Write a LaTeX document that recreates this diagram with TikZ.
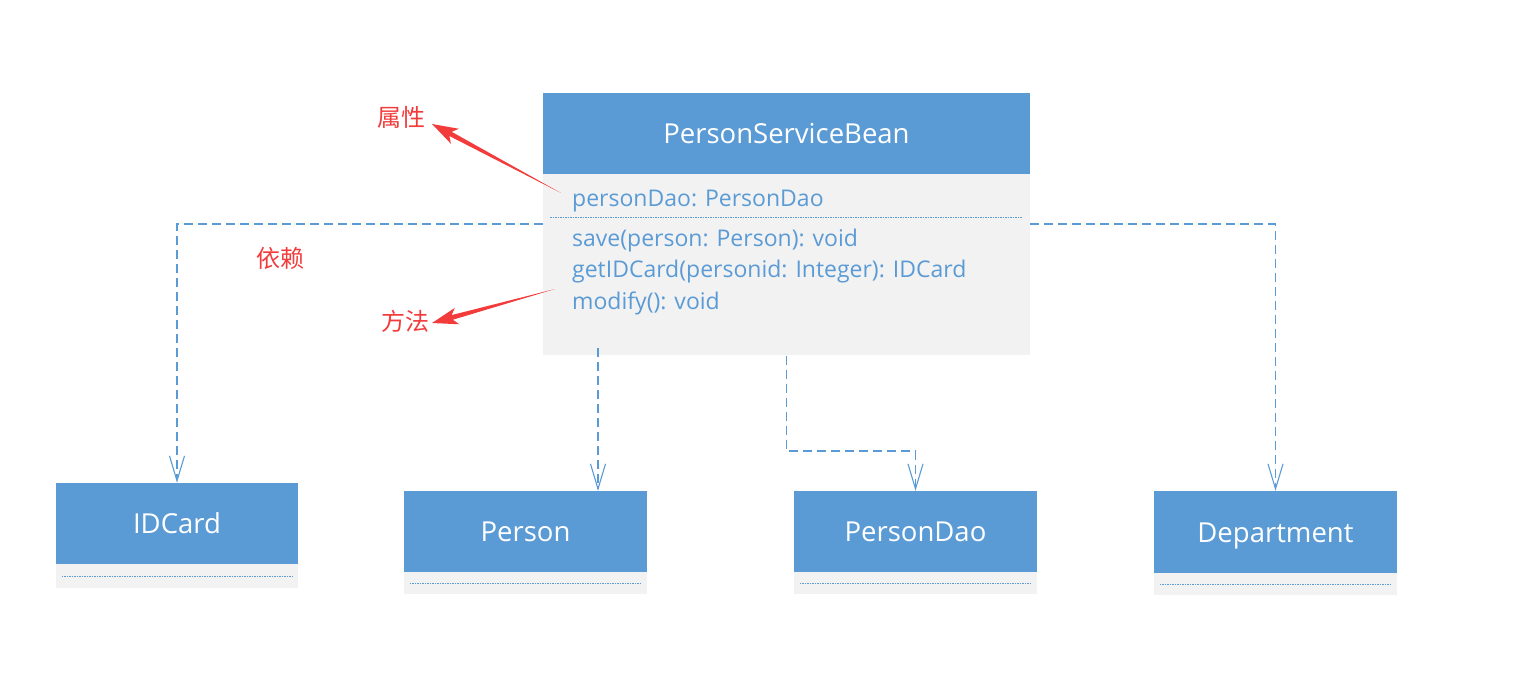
\documentclass[tikz,border=0pt]{standalone}
\usepackage{fontspec}
\setmainfont{Open Sans}
\newfontfamily\cjk{Noto Sans CJK SC}
\usetikzlibrary{arrows.meta,calc}
\definecolor{hdr}{HTML}{5B9BD5}
\definecolor{bodyg}{HTML}{F2F2F2}
\definecolor{anno}{HTML}{F23C3C}
\newcommand{\redarrow}[2]{%
  \path ($(#2)!26pt!(#1)$) coordinate (rb) ($(#2)!21pt!(#1)$) coordinate (rc);
  \fill[anno] (#1) -- ($(rc)!2.4pt!90:(#2)$) -- ($(rb)!8.5pt!90:(#2)$) -- (#2)
     -- ($(rb)!8.5pt!-90:(#2)$) -- ($(rc)!2.4pt!-90:(#2)$) -- cycle;}
\begin{document}
\begin{tikzpicture}[x=1pt,y=-1pt,
  hdrbox/.style={fill=hdr, draw=none, inner sep=0pt, text=white, text height=20pt, text depth=0pt, font=\fontsize{27.5}{32}\selectfont},
  bodybox/.style={fill=bodyg, draw=none, inner sep=0pt},
  member/.style={text=hdr, anchor=west, font=\fontsize{23}{26}\selectfont, inner sep=0pt},
  sep/.style={draw=hdr, dash pattern=on 1.5pt off 1pt, line width=0.9pt},
  dep/.style={draw=hdr, dash pattern=on 9pt off 5pt, line width=1.1pt, -{Straight Barb[length=25pt,width=15pt]}},
  annot/.style={text=anno, font=\cjk\fontsize{24}{28}\selectfont, inner sep=0pt},
]
\useasboundingbox (0,0) rectangle (1538,689);
% main class
\node (psbh) [hdrbox, minimum width=487pt, minimum height=81pt] at (786.5,133.5) {PersonServiceBean};
\node (psbb) [bodybox, minimum width=487pt, minimum height=181pt, anchor=north] at (psbh.south) {};
\node (attr1) [member] at (572,201) {personDao: PersonDao};
\draw[sep] (550,217) -- (1022,217);
\node (m1) [member] at (572,241) {save(person: Person): void};
\node (m2) [member] at (572,272) {getIDCard(personid: Integer): IDCard};
\node (m3) [member] at (572,303) {modify(): void};
% dependent classes
\node (idh) [hdrbox, minimum width=242pt, minimum height=81pt] at (177,523.5) {IDCard};
\node (idb) [bodybox, minimum width=242pt, minimum height=24pt, anchor=north] at (idh.south) {};
\draw[sep] ([xshift=6pt]idb.west) -- ([xshift=-6pt]idb.east);
\node (perh) [hdrbox, minimum width=243pt, minimum height=81pt] at (525.5,531.5) {Person};
\node (perb) [bodybox, minimum width=243pt, minimum height=22pt, anchor=north] at (perh.south) {};
\draw[sep] ([xshift=6pt]perb.west) -- ([xshift=-6pt]perb.east);
\node (pdh) [hdrbox, minimum width=243pt, minimum height=81pt] at (915.5,531.5) {PersonDao};
\node (pdb) [bodybox, minimum width=243pt, minimum height=22pt, anchor=north] at (pdh.south) {};
\draw[sep] ([xshift=6pt]pdb.west) -- ([xshift=-6pt]pdb.east);
\node (deph) [hdrbox, minimum width=243pt, minimum height=82pt] at (1275.5,532) {Department};
\node (depb) [bodybox, minimum width=243pt, minimum height=22pt, anchor=north] at (deph.south) {};
\draw[sep] ([xshift=6pt]depb.west) -- ([xshift=-6pt]depb.east);
% dependencies
\coordinate (s1) at (psbb.west |- 0,224);
\coordinate (s2) at (psbb.east |- 0,224);
\coordinate (s3) at (598,348);
\coordinate (s4) at (psbb.south);
\draw[dep] (s1) -| (idh.north);
\draw[dep] (s2) -| (deph.north);
\draw[dep] (s3) -- (s3 |- perh.north);
\draw[dep] (s4) -- (s4 |- 0,451) -| (pdh.north);
% annotations
\node (lbl1) [annot] at (401,117) {属性};
\node (lbl2) [annot] at (405,321) {方法};
\node (lbl3) [annot] at (280,258) {依赖};
\coordinate (a1s) at (561,193);
\coordinate (a1t) at (432,124);
\coordinate (a2s) at (555,289);
\coordinate (a2t) at (432,323);
\redarrow{a1s}{a1t}
\redarrow{a2s}{a2t}
\end{tikzpicture}
\end{document}
